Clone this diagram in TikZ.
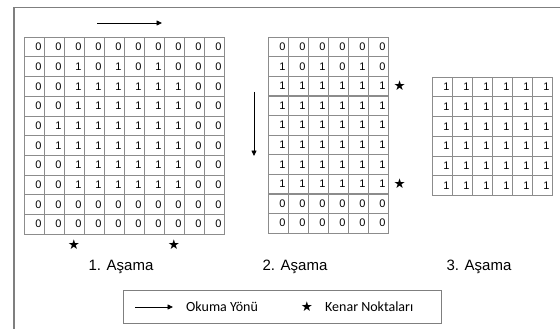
\documentclass[tikz,border=0pt]{standalone}
\usepackage{fontspec}
\setmainfont{Liberation Sans}
\newfontfamily\legendfont{Carlito}
\newfontfamily\starfont{DejaVu Sans}
\usetikzlibrary{arrows.meta, positioning}
\definecolor{gridgray}{HTML}{8C8C8C}
\definecolor{framegray}{HTML}{7F7F7F}

\begin{document}
\begin{tikzpicture}[x=1pt, y=-1pt,
  cell/.style={draw=gridgray, line width=0.6pt, inner xsep=2.5pt, inner ysep=0pt,
               text width=15pt, align=right, minimum height=19.7pt,
               font=\fontsize{11}{12}\selectfont},
  kstar/.style={font=\starfont\fontsize{13.5}{13.5}\selectfont, inner sep=0pt},
  dirarr/.style={-{Triangle[length=5.5pt,width=5pt]}, line width=0.8pt},
  stagelbl/.style={font=\fontsize{15}{17}\selectfont, anchor=base},
  lgd/.style={font=\legendfont\fontsize{14}{16}\selectfont, anchor=base west, inner sep=0pt},
]
  \useasboundingbox (0,0) rectangle (560,329);
  \draw[framegray, line width=1.8pt] (14,329) -- (14,7.5) -- (560,7.5);

  % 1. asama
  \foreach \row [count=\r] in {{0,0,0,0,0,0,0,0,0,0},{0,0,1,0,1,0,1,0,0,0},
      {0,0,1,1,1,1,1,1,0,0},{0,0,1,1,1,1,1,1,0,0},{0,1,1,1,1,1,1,1,0,0},
      {0,1,1,1,1,1,1,1,0,0},{0,0,1,1,1,1,1,1,0,0},{0,0,1,1,1,1,1,1,0,0},
      {0,0,0,0,0,0,0,0,0,0},{0,0,0,0,0,0,0,0,0,0}}
    \foreach \v [count=\c] in \row
      \node[cell] (a-\r-\c) at ({24+(\c-0.5)*20},{37+(\r-0.5)*19.7}) {\v};
  \node[kstar, below=5pt of a-10-3] (sa1) {★};
  \node[kstar, below=5pt of a-10-8] (sa2) {★};
  \node[stagelbl] (l1) at (121,270) {1. Aşama};
  \coordinate (ra1) at (97,23);
  \coordinate (ra2) at (162,23);
  \draw[dirarr] (ra1) -- (ra2);

  % 2. asama
  \foreach \row [count=\r] in {{0,0,0,0,0,0},{1,0,1,0,1,0},{1,1,1,1,1,1},
      {1,1,1,1,1,1},{1,1,1,1,1,1},{1,1,1,1,1,1},{1,1,1,1,1,1},{1,1,1,1,1,1},
      {0,0,0,0,0,0},{0,0,0,0,0,0}}
    \foreach \v [count=\c] in \row
      \node[cell] (b-\r-\c) at ({268+(\c-0.5)*20},{37+(\r-0.5)*19.6}) {\v};
  \node[kstar, right=5pt of b-3-6] (sb1) {★};
  \node[kstar, right=5pt of b-8-6] (sb2) {★};
  \node[stagelbl] (l2) at (295,270) {2. Aşama};
  \coordinate (da1) at (254,92);
  \coordinate (da2) at (254,156);
  \draw[dirarr] (da1) -- (da2);

  % 3. asama
  \foreach \r in {1,...,6}
    \foreach \c in {1,...,6}
      \node[cell] (c-\r-\c) at ({432+(\c-0.5)*20},{77+(\r-0.5)*19.7}) {1};
  \node[stagelbl] (l3) at (479,270) {3. Aşama};

  % legend
  \node[draw=framegray, line width=0.8pt, minimum width=318pt,
        minimum height=33pt, inner sep=0pt] (legend) at (282,306.5) {};
  \coordinate (la1) at (135,307);
  \coordinate (la2) at (173,307);
  \draw[dirarr] (la1) -- (la2);
  \node[lgd] (okuma) at (186,311.5) {Okuma Yönü};
  \node[kstar] (lstar) at (307,307) {★};
  \node[lgd] (kenar) at (325,311.5) {Kenar Noktaları};
\end{tikzpicture}
\end{document}
